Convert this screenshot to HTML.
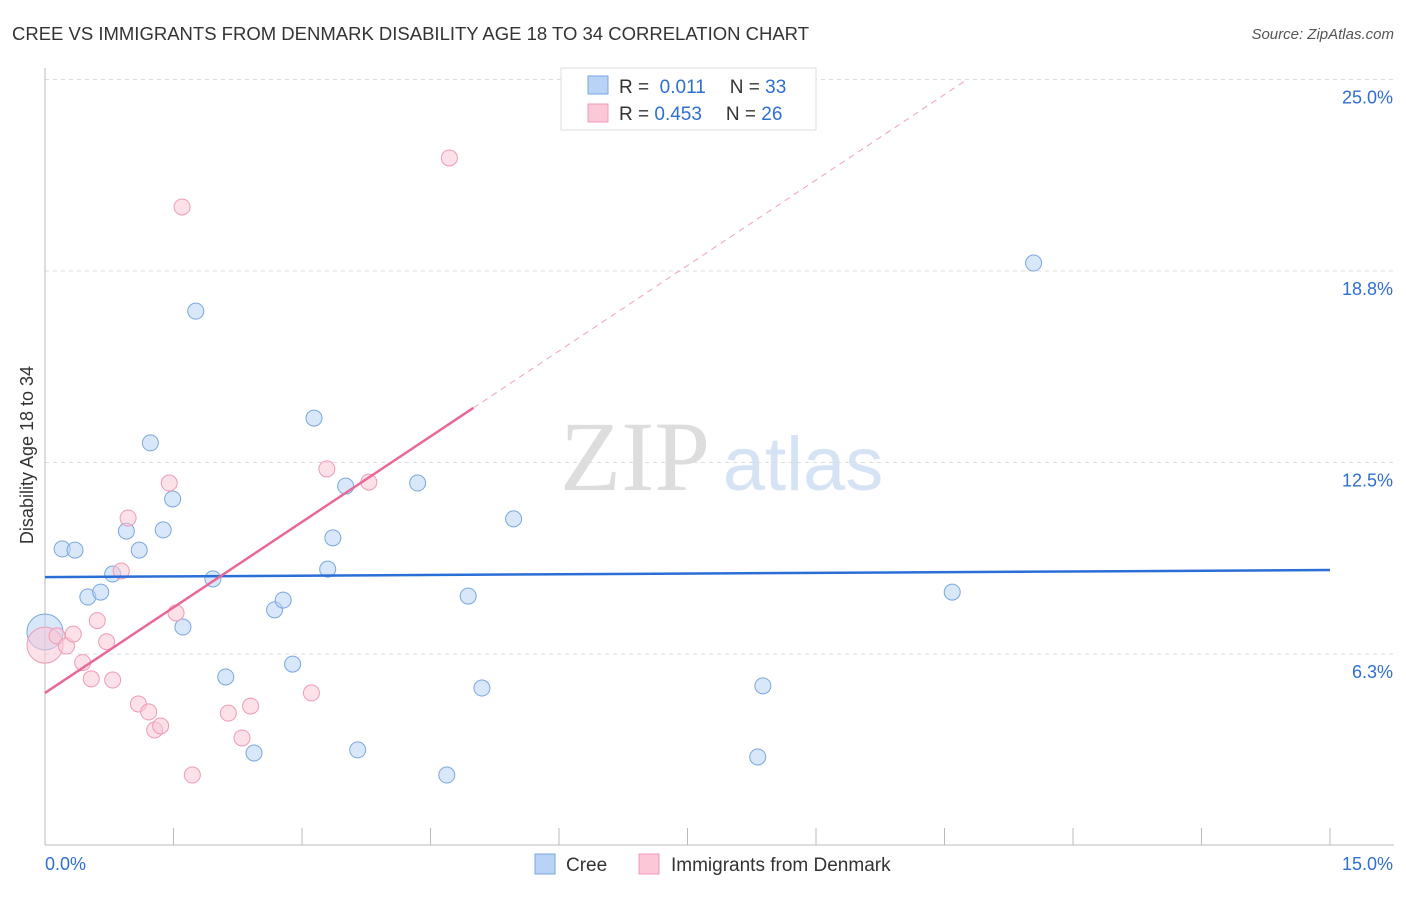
<!DOCTYPE html>
<html><head><meta charset="utf-8"><style>
body{margin:0;background:#fff;font-family:"Liberation Sans",sans-serif}
svg text{font-family:"Liberation Sans",sans-serif}
</style></head><body>
<svg id="c" width="1406" height="892" xmlns="http://www.w3.org/2000/svg">
<text x="12" y="40" font-size="18" fill="#333" textLength="797" lengthAdjust="spacingAndGlyphs">CREE VS IMMIGRANTS FROM DENMARK DISABILITY AGE 18 TO 34 CORRELATION CHART</text>
<text x="1394" y="39" font-size="15" fill="#555" font-style="italic" text-anchor="end">Source: ZipAtlas.com</text>
<text x="33" y="455" font-size="18" fill="#333" text-anchor="middle" transform="rotate(-90 33 455)" dx="0" dy="0"><tspan x="33" dx="0" y="455" dy="0" style="">Disability Age 18 to 34</tspan></text>
<g><text x="635" y="490" font-size="100" fill="#ddd" style="font-family:'Liberation Serif',serif" text-anchor="middle">ZIP</text><text x="803" y="490" font-size="76" fill="#d5e3f5" text-anchor="middle">atlas</text></g>
<g id="grid"></g><g id="axes"></g><g id="marks"></g>
<g>
<rect x="561" y="68" width="255" height="62" fill="#fff" stroke="#ddd"/>
<rect x="588" y="76" width="20" height="18" fill="#b8d3f5" stroke="#7aa7e0"/>
<rect x="588" y="104" width="20" height="18" fill="#fac8d7" stroke="#f09ab5"/>
<text x="619" y="93" font-size="19" fill="#333">R = <tspan fill="#2f6fd1">&#160;0.011</tspan><tspan dx="24">N = </tspan><tspan fill="#2f6fd1">33</tspan></text>
<text x="619" y="120" font-size="19" fill="#333">R = <tspan fill="#2f6fd1">0.453</tspan><tspan dx="24">N = </tspan><tspan fill="#2f6fd1">26</tspan></text>
</g>
<g>
<rect x="535" y="854" width="20" height="20" fill="#b8d3f5" stroke="#7aa7e0"/>
<text x="566" y="871" font-size="19" fill="#333">Cree</text>
<rect x="639" y="854" width="20" height="20" fill="#fac8d7" stroke="#f09ab5"/>
<text x="671" y="871" font-size="19" fill="#333">Immigrants from Denmark</text>
</g>
</svg>
<script>
const creeX=[0.00,0.20,0.35,0.50,0.65,0.79,0.95,1.10,1.23,1.38,1.49,1.61,1.76,1.96,2.11,2.44,2.68,2.78,2.89,3.14,3.30,3.36,3.51,3.65,4.35,4.69,4.94,5.10,5.47,8.32,8.38,10.59,11.54];
const creeY=[6.97,9.68,9.64,8.11,8.27,8.86,10.26,9.64,13.14,10.30,11.31,7.13,17.44,8.70,5.50,3.02,7.69,8.01,5.92,13.95,9.02,10.04,11.73,3.12,11.83,2.30,8.14,5.14,10.66,2.89,5.21,8.27,19.01];
const denX=[0.00,0.14,0.25,0.33,0.44,0.54,0.61,0.72,0.79,0.89,0.97,1.09,1.21,1.28,1.35,1.45,1.53,1.60,1.72,2.14,2.30,2.40,3.11,3.29,3.78,4.72];
const denY=[6.54,6.84,6.51,6.90,5.97,5.44,7.34,6.65,5.40,8.96,10.69,4.62,4.36,3.77,3.90,11.83,7.59,20.84,2.30,4.32,3.51,4.55,4.98,12.29,11.86,22.44];
const creeTrend=[8.76,8.99];
const denTrend=[4.98,1.86];
const yTicks=[6.25,12.5,18.75,25];
const yTickLabels=["6.3%","12.5%","18.8%","25.0%"];
const xTicks=[0,1.5,3,4.5,6,7.5,9,10.5,12,13.5,15];
const NS="http://www.w3.org/2000/svg";
const X=v=>45+v/15*1285, Y=v=>845.5-v/6.25*191.5;
function mk(p,t,a){const e=document.createElementNS(NS,t);for(const k in a)e.setAttribute(k,a[k]);document.getElementById(p).appendChild(e);return e;}
yTicks.forEach((t,i)=>{let l=mk('grid','line',{x1:45,x2:1394,y1:Y(t),y2:Y(t),stroke:'#ddd','stroke-dasharray':'4 4'});


let tx=mk('axes','text',{x:1393,y:Y(t)+24,'font-size':18,fill:'#2f6fd1','text-anchor':'end'});tx.textContent=yTickLabels[i];

});
let ax=mk('axes','line',{x1:45,x2:1394,y1:845,y2:845,stroke:'#bbb'});


let ay=mk('axes','line',{x1:45,x2:45,y1:68,y2:845,stroke:'#bbb'});


xTicks.forEach(t=>{let l=mk('axes','line',{x1:X(t),x2:X(t),y1:828,y2:845,stroke:'#bbb'});

});
let x0=mk('axes','text',{x:45,y:870,'font-size':18,fill:'#2f6fd1'});x0.textContent="0.0%";


let x1=mk('axes','text',{x:1393,y:870,'font-size':18,fill:'#2f6fd1','text-anchor':'end'});x1.textContent="15.0%";


function dots(xs,ys,fill,stroke,name){xs.forEach((x,i)=>{let c=mk('marks','circle',{cx:X(x),cy:Y(ys[i]),r:i==0?18:8,fill:fill,'fill-opacity':0.55,stroke:stroke,'stroke-width':1});

});}
dots(creeX,creeY,'#b8d3f5','#7aa7e0','cree-point');
dots(denX,denY,'#fac8d7','#f09ab5','denmark-point');
let bl=mk('marks','line',{x1:X(0),y1:Y(creeTrend[0]),x2:X(15),y2:Y(creeTrend[1]),stroke:'#2a6fd6','stroke-width':2.5});


const dy=x=>denTrend[0]+denTrend[1]*x;
let pl=mk('marks','line',{x1:X(0),y1:Y(dy(0)),x2:X(5),y2:Y(dy(5)),stroke:'#e8689a','stroke-width':2.5});


const xe=(25-denTrend[0])/denTrend[1];
let pd=mk('marks','line',{x1:X(5),y1:Y(dy(5)),x2:X(xe),y2:Y(25),stroke:'#f0a0bb','stroke-width':1,'stroke-dasharray':'6 5'});


</script>
</body></html>
